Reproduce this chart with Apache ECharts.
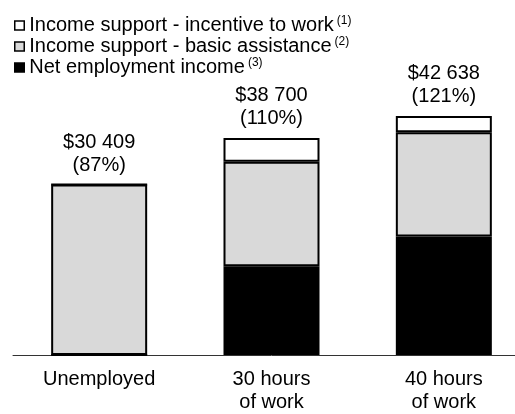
<!DOCTYPE html>
<html>
<head>
<meta charset="utf-8">
<script src="https://cdn.jsdelivr.net/npm/echarts@6/dist/echarts.min.js"></script>
<style>
  html, body { margin: 0; padding: 0; background: #fff; overflow: hidden; }
  /* the drawing surface runs slightly past the right edge of the window */
  #chart { width: 531px; height: 414px; }
</style>
</head>
<body>
<div id="chart"></div>
<script>
// Household scenarios
var categories = ['Unemployed', '30 hours\nof work', '40 hours\nof work'];

// Annual income components ($)
var netEmployment = [0, 15850, 21150];
var basicAssistance = [30409, 18650, 18600];
var workIncentive = [0, 4200, 2888];

// Share of the reference income shown under each total
var percentOfReference = [87, 110, 121];

var seriesNames = [
  'Income support - incentive to work',
  'Income support - basic assistance',
  'Net employment income'
];
var noteNumbers = ['(1)', '(2)', '(3)'];

var FONT = '"Liberation Sans", Arial, sans-serif';

function totalAt(i) {
  return netEmployment[i] + basicAssistance[i] + workIncentive[i];
}
function money(v) {
  return '$' + String(v).replace(/\B(?=(\d{3})+(?!\d))/g, ' ');
}

var chart = echarts.init(document.getElementById('chart'), null, { renderer: 'canvas' });

var segmentStyle = function (fill) {
  return { color: fill, borderColor: '#000', borderWidth: 2 };
};

chart.setOption({
  animation: false,
  backgroundColor: '#fff',
  textStyle: { fontFamily: FONT },
  grid: { left: 13, right: 1, top: 100, bottom: 52, containLabel: false },
  legend: {
    orient: 'vertical',
    left: 14,
    top: 15,
    padding: 0,
    itemWidth: 9.5,
    itemHeight: 9,
    itemGap: 0.5,
    icon: 'rect',
    itemStyle: { borderColor: '#000', borderWidth: 1.5 },
    data: [seriesNames[0], seriesNames[1], seriesNames[2]],
    formatter: function (name) {
      var k = seriesNames.indexOf(name);
      return '{t|' + name + '}{s|' + noteNumbers[k] + '}';
    },
    textStyle: {
      fontFamily: FONT,
      color: '#000',
      rich: {
        t: { fontSize: 20, fontFamily: FONT, color: '#000', lineHeight: 22 },
        s: { fontSize: 12, fontFamily: FONT, color: '#000', padding: [0, 0, 9, 3] }
      }
    }
  },
  xAxis: {
    type: 'category',
    data: categories,
    axisLine: { lineStyle: { color: '#333', width: 1 } },
    axisTick: { show: false },
    axisLabel: {
      color: '#000',
      fontSize: 20,
      fontFamily: FONT,
      lineHeight: 23,
      margin: 13
    }
  },
  yAxis: {
    type: 'value',
    min: 0,
    max: 45500,
    show: false,
    splitLine: { show: false }
  },
  series: [
    {
      name: seriesNames[2],
      type: 'bar',
      stack: 'income',
      barWidth: 96,
      itemStyle: segmentStyle('#000'),
      data: netEmployment
    },
    {
      name: seriesNames[1],
      type: 'bar',
      stack: 'income',
      itemStyle: segmentStyle('#d9d9d9'),
      data: basicAssistance
    },
    {
      name: seriesNames[0],
      type: 'bar',
      stack: 'income',
      itemStyle: segmentStyle('#fff'),
      data: workIncentive
    },
    {
      // zero-height cap carrying the total label at the top of each stack
      name: 'total',
      type: 'bar',
      stack: 'income',
      itemStyle: { color: 'rgba(0,0,0,0)', borderWidth: 0 },
      label: {
        show: true,
        position: 'top',
        distance: 8,
        color: '#000',
        fontSize: 20,
        fontFamily: FONT,
        lineHeight: 23,
        align: 'center',
        formatter: function (p) {
          return money(totalAt(p.dataIndex)) + '\n(' + percentOfReference[p.dataIndex] + '%)';
        }
      },
      data: [0, 0, 0]
    }
  ]
});
</script>
</body>
</html>
